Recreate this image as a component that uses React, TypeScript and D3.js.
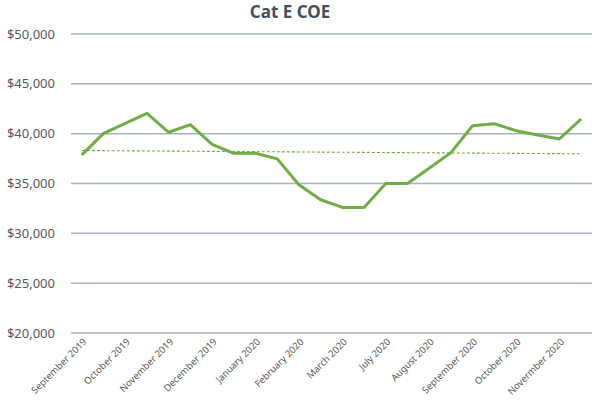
import React from "react";
import * as d3 from "d3";

const tickLabels = [
  "September 2019",
  "October 2019",
  "November 2019",
  "December 2019",
  "January 2020",
  "February 2020",
  "March 2020",
  "July 2020",
  "August 2020",
  "September 2020",
  "October 2020",
  "Novermber 2020",
];

// two bidding exercises per month
const categories = tickLabels.flatMap((m) => [m + " (1)", m + " (2)"]);

const coeValues = [
  37870, 40030, 41040, 42040, 40140, 40900, 38930, 38030, 38030, 37470, 34870,
  33370, 32600, 32600, 35000, 35000, 36530, 38100, 40800, 41000, 40300, 39870,
  39470, 41470,
];

const yTicks = [20000, 25000, 30000, 35000, 40000, 45000, 50000];

const W = 600;
const H = 400;
const left = 71;
const right = 592;
const top = 34;
const bottom = 333;

export default function App() {
  const x = d3.scaleBand<string>().domain(categories).range([left, right]);
  const y = d3.scaleLinear().domain([20000, 50000]).range([bottom, top]);
  const cx = (i: number) => (x(categories[i]) as number) + x.bandwidth() / 2;

  const line = d3
    .line<number>()
    .x((_, i) => cx(i))
    .y((d) => y(d));

  // linear trendline (least squares)
  const n = coeValues.length;
  const idx = d3.range(n);
  const mx = d3.mean(idx) as number;
  const my = d3.mean(coeValues) as number;
  const slope =
    d3.sum(idx, (i) => (i - mx) * (coeValues[i] - my)) /
    d3.sum(idx, (i) => (i - mx) * (i - mx));
  const icpt = my - slope * mx;
  const trend = [icpt, icpt + slope * (n - 1)];

  const fmt = (v: number) => "$" + d3.format(",")(v);

  return (
    <svg
      width={W}
      height={H}
      style={{ position: "absolute", left: 0, top: 0, background: "#fff" }}
      fontFamily="'Noto Sans', sans-serif"
    >
      <text
        x={290}
        y={17.5}
        textAnchor="middle"
        fontSize={17}
        fontWeight="bold"
        fill="#44505f"
      >
        Cat E COE
      </text>
      {yTicks.map((t) => (
        <g key={t}>
          <line
            x1={left}
            x2={right}
            y1={y(t)}
            y2={y(t)}
            stroke="#a4b3c9"
            strokeWidth={1.5}
          />
          <text
            x={55}
            y={y(t)}
            dy="0.35em"
            textAnchor="end"
            fontSize={13}
            fill="#595959"
          >
            {fmt(t)}
          </text>
        </g>
      ))}
      {tickLabels.map((lab, k) => {
        const px = cx(k * 2);
        return (
          <text
            key={lab}
            transform={`translate(${px + 3},${340}) rotate(-45)`}
            textAnchor="end"
            dy="0.35em"
            fontSize={9.5}
            fill="#595959"
          >
            {lab}
          </text>
        );
      })}
      <line
        x1={cx(0)}
        x2={cx(n - 1)}
        y1={y(trend[0])}
        y2={y(trend[1])}
        stroke="#70ad47"
        strokeWidth={1.1}
        strokeDasharray="3,2"
      />
      <path
        d={line(coeValues) as string}
        fill="none"
        stroke="#70ad47"
        strokeWidth={3}
        strokeLinejoin="round"
      />
    </svg>
  );
}
